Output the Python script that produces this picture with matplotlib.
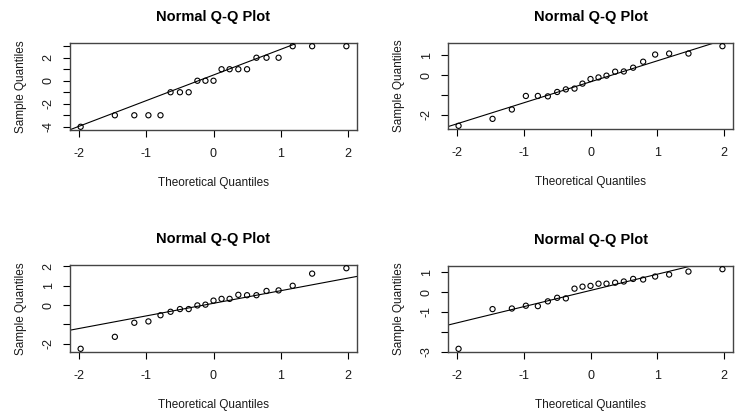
import numpy as np
import matplotlib.pyplot as plt

plt.rcParams['font.family'] = ['Liberation Sans', 'DejaVu Sans']

# theoretical quantiles (21 points, shared by all panels)
theo = [-1.98, -1.47, -1.18, -0.97, -0.79, -0.64, -0.50, -0.37, -0.24, -0.12, 0.0,
        0.12, 0.24, 0.37, 0.50, 0.64, 0.79, 0.97, 1.18, 1.47, 1.98]

# sample quantiles
s1 = [-4, -3, -3, -3, -3, -1, -1, -1, 0, 0, 0, 1, 1, 1, 1, 2, 2, 2, 3, 3, 3]
s2 = [-2.55, -2.2, -1.73, -1.05, -1.05, -1.07, -0.85, -0.72, -0.68, -0.43, -0.2,
      -0.12, -0.03, 0.17, 0.18, 0.37, 0.67, 1.03, 1.08, 1.08, 1.45]
s3 = [-2.27, -1.65, -0.92, -0.85, -0.53, -0.35, -0.21, -0.21, -0.02, 0.02, 0.23,
      0.32, 0.32, 0.53, 0.51, 0.51, 0.73, 0.76, 1.0, 1.63, 1.91]
s4 = [-2.86, -0.86, -0.83, -0.69, -0.71, -0.47, -0.29, -0.32, 0.17, 0.27, 0.31,
      0.42, 0.42, 0.47, 0.53, 0.66, 0.63, 0.78, 0.88, 1.03, 1.15]

# y ticks and which labels R kept
yticks1 = [-4, -3, -2, -1, 0, 1, 2, 3]
ylabs1 = ['-4', '', '-2', '', '0', '', '2', '']
yticks2 = [-2, -1, 0, 1]
ylabs2 = ['-2', '', '0', '1']
yticks3 = [-2, -1, 0, 1, 2]
ylabs3 = ['-2', '', '0', '1', '2']
yticks4 = [-3, -2, -1, 0, 1]
ylabs4 = ['-3', '', '-1', '0', '1']

xticks = [-2, -1, 0, 1, 2]

panels = [(s1, yticks1, ylabs1), (s2, yticks2, ylabs2),
          (s3, yticks3, ylabs3), (s4, yticks4, ylabs4)]

W, H = 735, 413
boxes = [(70, 43, 357, 130), (448, 43, 733, 129),
         (70, 265, 357, 352), (448, 266, 733, 352)]

fig = plt.figure(figsize=(7.35, 4.13), dpi=100)
txt = '#1a1a1a'

for (samp, yt, yl), (l, t, r, b) in zip(panels, boxes):
    ax = fig.add_axes([l / W, 1 - b / H, (r - l) / W, (b - t) / H])
    x = np.array(theo)
    y = np.array(samp)
    ax.scatter(x, y, s=14, facecolors='none', edgecolors='black', linewidths=0.8,
               zorder=3)
    # qqline through first and third quartiles
    q1, q3 = np.quantile(y, [0.25, 0.75])
    z1, z3 = -0.6745, 0.6745
    slope = (q3 - q1) / (z3 - z1)
    inter = q1 - slope * z1
    xr = x.max() - x.min()
    yr = y.max() - y.min()
    xlim = (x.min() - 0.04 * xr, x.max() + 0.04 * xr)
    ylim = (y.min() - 0.04 * yr, y.max() + 0.04 * yr)
    xx = np.array(xlim)
    ax.plot(xx, inter + slope * xx, color='black', lw=0.8)
    ax.set_xlim(xlim)
    ax.set_ylim(ylim)
    ax.set_xticks(xticks)
    ax.set_xticklabels([str(v) for v in xticks], fontsize=9, color=txt)
    ax.set_yticks(yt)
    ax.set_yticklabels(yl, fontsize=9, color=txt, rotation=90, va='center')
    ax.tick_params(axis='x', direction='out', length=5, width=0.8, pad=8)
    ax.tick_params(axis='y', direction='out', length=5, width=0.8, pad=6)
    for sp in ax.spines.values():
        sp.set_color('#444444')
        sp.set_linewidth(1.0)
    ax.set_title('Normal Q-Q Plot', fontsize=10.5, fontweight='bold', pad=16)
    ax.set_xlabel('Theoretical Quantiles', fontsize=8.5, color=txt, labelpad=12)
    ax.set_ylabel('Sample Quantiles', fontsize=8.5, color=txt, labelpad=11)

fig.savefig('out.png', dpi=100)
